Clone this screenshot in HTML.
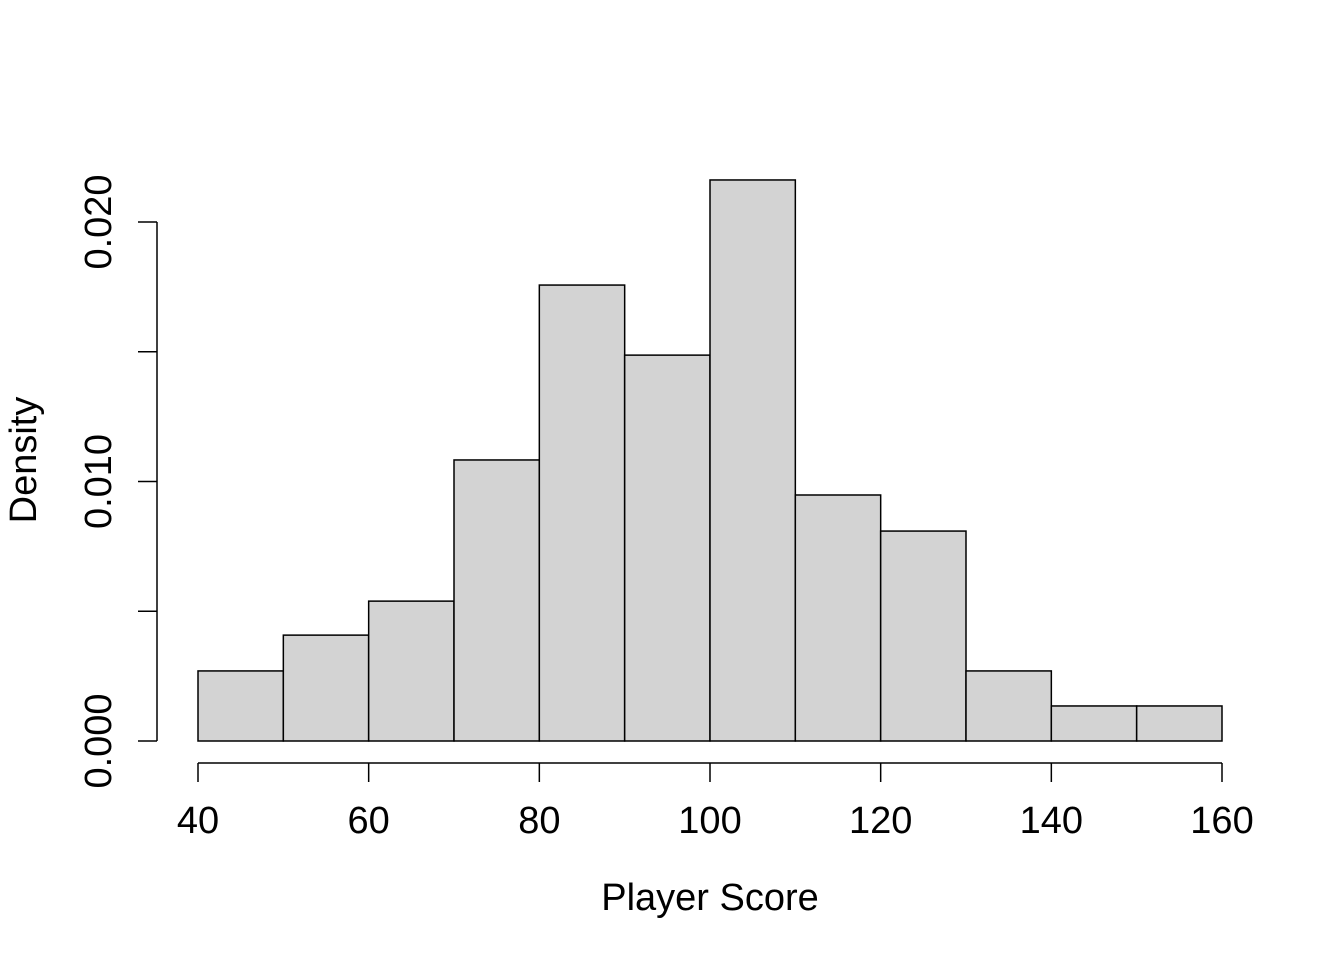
<!DOCTYPE html>
<html><head><meta charset="utf-8"><style>
html,body{margin:0;padding:0;background:#fff}
svg{display:block}
text{font-family:"Liberation Sans",Arial,sans-serif;fill:#000}
</style></head><body>
<svg id="chart" width="1344" height="960" viewBox="0 0 1344 960">
<g id="bars"></g>
<g id="xaxis"></g>
<g id="yaxis"></g>
<text x="710" y="910" font-size="38" text-anchor="middle">Player Score</text>
<text x="0" y="0" font-size="38" text-anchor="middle" transform="translate(36,460) rotate(-90)">Density</text>
</svg>
<script>
const binStarts = [40,50,60,70,80,90,100,110,120,130,140,150];
const binWidth = 10;
const densities = [0.0027,0.00408,0.00539,0.01083,0.01757,0.01487,0.02162,0.00948,0.00809,0.0027,0.00135,0.00135];
const xTicks = [40,60,80,100,120,140,160];
const yTicks = [0,0.005,0.010,0.015,0.020];
const yTickLabels = ["0.000","","0.010","","0.020"];

const NS="http://www.w3.org/2000/svg";
function x(v){return 198+(v-40)*(1222-198)/120;}
function y(v){return 741-v*(741-222)/0.020;}
function mk(tag,attrs,parent){const e=document.createElementNS(NS,tag);for(const k in attrs)e.setAttribute(k,attrs[k]);parent.appendChild(e);return e;}

const bars=document.getElementById('bars');
binStarts.forEach((s,i)=>{
  const r=mk('rect',{x:x(s),y:y(densities[i]),width:x(s+binWidth)-x(s),height:y(0)-y(densities[i]),fill:'#d3d3d3',stroke:'#000','stroke-width':1.5},bars);
  
  
});

const xa=document.getElementById('xaxis');
mk('line',{x1:x(xTicks[0]),x2:x(xTicks[xTicks.length-1]),y1:763,y2:763,stroke:'#000','stroke-width':1.5},xa);
xTicks.forEach(t=>{
  mk('line',{x1:x(t),x2:x(t),y1:763,y2:782,stroke:'#000','stroke-width':1.5},xa);
  const tx=mk('text',{x:x(t),y:833,'font-size':38,'text-anchor':'middle'},xa);
  tx.textContent=t;
  
  
});

const ya=document.getElementById('yaxis');
mk('line',{x1:157,x2:157,y1:y(yTicks[0]),y2:y(yTicks[yTicks.length-1]),stroke:'#000','stroke-width':1.5},ya);
yTicks.forEach((t,i)=>{
  mk('line',{x1:138,x2:157,y1:y(t),y2:y(t),stroke:'#000','stroke-width':1.5},ya);
  if(yTickLabels[i]){
    const tx=mk('text',{x:0,y:0,'font-size':38,'text-anchor':'middle',transform:`translate(111,${y(t)}) rotate(-90)`},ya);
    tx.textContent=yTickLabels[i];
    
    
  }
});
</script>
</body></html>
